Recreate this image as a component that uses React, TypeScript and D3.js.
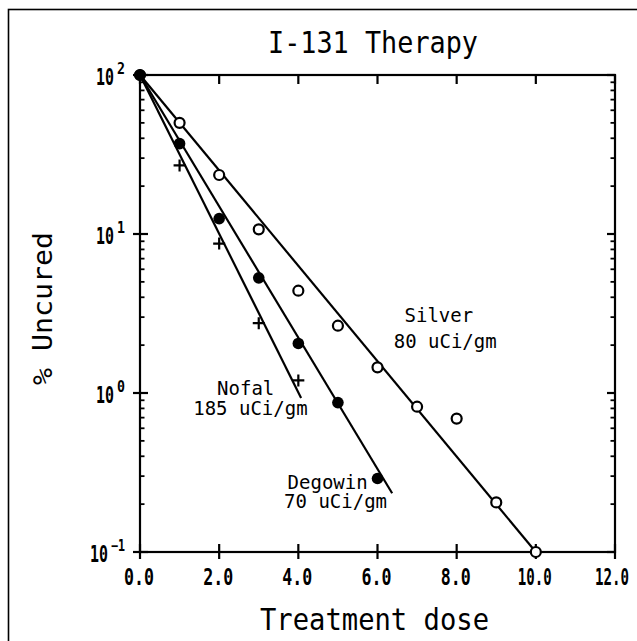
import React from 'react';
import * as d3 from 'd3';

// observed points (dose, % uncured)
const silverDose = [0, 1, 2, 3, 4, 5, 6, 7, 8, 9, 10];
const silverUncured = [100, 50, 23.5, 10.7, 4.4, 2.65, 1.45, 0.82, 0.69, 0.205, 0.1];
const degowinDose = [0, 1, 2, 3, 4, 5, 6];
const degowinUncured = [100, 37, 12.5, 5.3, 2.05, 0.87, 0.29];
const nofalDose = [0, 1, 2, 3, 4];
const nofalUncured = [100, 27, 8.7, 2.75, 1.2];

// fitted lines (start/end)
const silverFitDose = [0, 10];
const silverFitUncured = [100, 0.1];
const degowinFitDose = [0, 6.37];
const degowinFitUncured = [100, 0.234];
const nofalFitDose = [0, 4.07];
const nofalFitUncured = [100, 0.93];

const xTicks = [0, 2, 4, 6, 8, 10, 12];
const yDecades = [0.1, 1, 10, 100];
const yExponents = ['\u22121', '0', '1', '2'];

const labelLines = ['Silver', '80 uCi/gm', 'Degowin', '70 uCi/gm', 'Nofal', '185 uCi/gm'];
const labelDose = [7.55, 7.71, 4.74, 4.94, 2.67, 2.79];
const labelUncured = [2.81, 1.93, 0.249, 0.189, 0.97, 0.727];

const W = 637;
const H = 641;
const font = '"DejaVu Sans Mono", monospace';

const zip = (xs: number[], ys: number[]) => xs.map((x, i) => [x, ys[i]] as [number, number]);

export default function App() {
  const x = d3.scaleLinear().domain([0, 12]).range([140, 615]);
  const y = d3.scaleLog().domain([0.1, 100]).range([552, 75]);
  const line = d3.line<[number, number]>().x(d => x(d[0])).y(d => y(d[1]));

  const minor = y.ticks().filter(v => !yDecades.some(d => Math.abs(v - d) < 1e-9));
  const [x0, x1] = x.range();
  const [y0, y1] = y.range();
  const sw = 2.2;

  return (
    <div style={{ position: 'absolute', left: 0, top: 0 }}>
      <svg width={W} height={H} style={{ display: 'block', background: '#fff' }}>
        {/* outer border, cut off on the right and bottom */}
        <rect x={8.5} y={9.5} width={700} height={700} fill="none" stroke="#000" strokeWidth={1.6} />

        <text x={373} y={53} textAnchor="middle" fontFamily={font} fontSize={31}
          textLength={210} lengthAdjust="spacingAndGlyphs">I-131 Therapy</text>

        {/* frame */}
        <rect x={x0} y={y1} width={x1 - x0} height={y0 - y1} fill="none" stroke="#000" strokeWidth={sw} />

        {/* x ticks */}
        {xTicks.map(t => (
          <g key={'x' + t}>
            <line x1={x(t)} x2={x(t)} y1={y0 - 8} y2={y0 + 7} stroke="#000" strokeWidth={sw} />
            <line x1={x(t)} x2={x(t)} y1={y1} y2={y1 + 9} stroke="#000" strokeWidth={sw} />
            <text x={x(t) - (t === 12 ? 3 : 1)} y={585} textAnchor="middle" fontFamily={font} fontSize={23} fontWeight="bold"
              textLength={t >= 10 ? 34 : 30} lengthAdjust="spacingAndGlyphs">{d3.format('.1f')(t)}</text>
          </g>
        ))}

        {/* y ticks */}
        {yDecades.map((v, i) => {
          const e = yExponents[i];
          const ew = e.length > 1 ? 14 : 8;
          return (
            <g key={'y' + v}>
              <line x1={x0 - 7} x2={x0 + 8} y1={y(v)} y2={y(v)} stroke="#000" strokeWidth={sw} />
              <line x1={x1 - 8} x2={x1} y1={y(v)} y2={y(v)} stroke="#000" strokeWidth={sw} />
              <text x={124 - ew - 20} y={y(v) + 10} fontFamily={font} fontWeight="bold">
                <tspan fontSize={23} textLength={18} lengthAdjust="spacingAndGlyphs">10</tspan>
                <tspan x={125 - ew} dy={-11} fontSize={15} textLength={ew} lengthAdjust="spacingAndGlyphs">{e}</tspan>
              </text>
            </g>
          );
        })}
        {minor.map(v => (
          <g key={'m' + v}>
            <line x1={x0} x2={x0 + 4.5} y1={y(v)} y2={y(v)} stroke="#000" strokeWidth={1.8} />
            <line x1={x1 - 4.5} x2={x1} y1={y(v)} y2={y(v)} stroke="#000" strokeWidth={1.8} />
          </g>
        ))}

        <text x={374.5} y={630} textAnchor="middle" fontFamily={font} fontSize={30}
          textLength={229} lengthAdjust="spacingAndGlyphs">Treatment dose</text>
        <text transform={`translate(52,308.5) rotate(-90)`} textAnchor="middle" fontFamily={font} fontSize={26}
          textLength={153} lengthAdjust="spacingAndGlyphs">% Uncured</text>

        {/* fitted lines */}
        {[zip(silverFitDose, silverFitUncured), zip(degowinFitDose, degowinFitUncured), zip(nofalFitDose, nofalFitUncured)].map((pts, i) => (
          <path key={'f' + i} d={line(pts) || ''} fill="none" stroke="#000" strokeWidth={sw} />
        ))}

        {/* markers */}
        {zip(silverDose, silverUncured).map(([d, u], i) => (
          <circle key={'s' + i} cx={x(d)} cy={y(u)} r={5} fill="#fff" stroke="#000" strokeWidth={2.2} />
        ))}
        {zip(degowinDose, degowinUncured).map(([d, u], i) => (
          <circle key={'d' + i} cx={x(d)} cy={y(u)} r={5.8} fill="#000" />
        ))}
        {zip(nofalDose, nofalUncured).map(([d, u], i) => (
          <path key={'n' + i} d={`M${x(d) - 6},${y(u)}H${x(d) + 6}M${x(d)},${y(u) - 6}V${y(u) + 6}`}
            stroke="#000" strokeWidth={2.2} />
        ))}

        {labelLines.map((t, i) => (
          <text key={'l' + i} x={x(labelDose[i])} y={y(labelUncured[i])} textAnchor="middle"
            fontFamily={font} fontSize={19}>{t}</text>
        ))}
      </svg>
    </div>
  );
}
